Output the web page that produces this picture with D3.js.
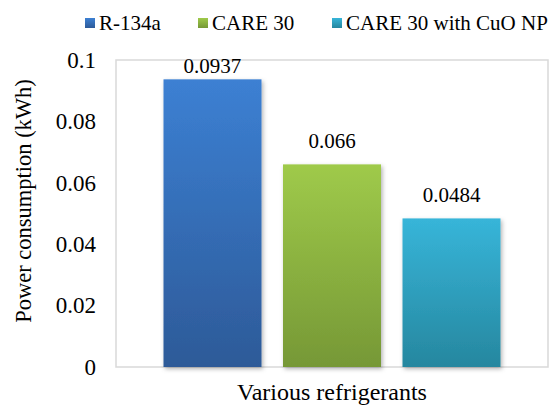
<!DOCTYPE html>
<html>
<head>
<meta charset="utf-8">
<script src="https://cdn.jsdelivr.net/npm/d3@7"></script>
<style>
  body { margin: 0; background: #fff; }
</style>
</head>
<body>
<svg id="chart" width="553" height="405" font-family="Liberation Serif"></svg>
<script>
// chart data
const categories = ['Various refrigerants'];
const series = ['R-134a', 'CARE 30', 'CARE 30 with CuO NP'];
const values = [0.0937, 0.066, 0.0484];
const yTicks = [0, 0.02, 0.04, 0.06, 0.08, 0.1];
const yTickLabels = ['0', '0.02', '0.04', '0.06', '0.08', '0.1'];

const FONT = 'Liberation Serif';
const plot = { left: 116, right: 548, top: 60, bottom: 367 };

// gradient colours per series (top, bottom)
const colors = [
  ['#3c80d3', '#2d5a98'],
  ['#9fca4a', '#769836'],
  ['#37b5d9', '#26879f']
];

const svg = d3.select('#chart');
const defs = svg.append('defs');

colors.forEach((c, i) => {
  const g = defs.append('linearGradient')
    .attr('id', 'grad' + i)
    .attr('x1', 0).attr('y1', 0).attr('x2', 0).attr('y2', 1);
  g.append('stop').attr('offset', '0%').attr('stop-color', c[0]);
  g.append('stop').attr('offset', '100%').attr('stop-color', c[1]);
});

const shadow = defs.append('filter').attr('id', 'shadow')
  .attr('x', '-20%').attr('y', '-10%').attr('width', '140%').attr('height', '130%');
shadow.append('feDropShadow')
  .attr('dx', 1.5).attr('dy', 2).attr('stdDeviation', 2)
  .attr('flood-color', '#000').attr('flood-opacity', 0.3);

const y = d3.scaleLinear().domain([0, 0.1]).range([plot.bottom, plot.top]);

const x0 = d3.scaleBand()
  .domain(categories)
  .range([plot.left, plot.right])
  .paddingInner(0)
  .paddingOuter(0.1025);

const x1 = d3.scaleBand()
  .domain(series)
  .range([0, x0.bandwidth()])
  .paddingInner(0.18)
  .paddingOuter(0.09);

function label(sel, size) {
  return sel.attr('font-family', FONT)
    .style('font-family', FONT)
    .style('font-size', size + 'px')
    .attr('fill', '#000');
}

// plot border
svg.append('rect')
  .attr('x', plot.left).attr('y', plot.top)
  .attr('width', plot.right - plot.left)
  .attr('height', plot.bottom - plot.top)
  .attr('fill', 'none')
  .attr('stroke', '#d9d9d9')
  .attr('stroke-width', 1.5);

// y axis labels
const yAxis = d3.axisLeft(y)
  .tickValues(yTicks)
  .tickFormat((d, i) => yTickLabels[i])
  .tickSize(0)
  .tickPadding(20);

const yg = svg.append('g')
  .attr('transform', `translate(${plot.left},0)`)
  .call(yAxis)
  .attr('font-family', FONT);
yg.select('.domain').remove();
label(yg.selectAll('text'), 23);

// bars
const data = series.map((s, i) => ({ s, v: values[i], i }));
const barG = svg.append('g');
data.forEach(d => {
  const bx = x0(categories[0]) + x1(d.s);
  barG.append('rect')
    .attr('x', bx)
    .attr('y', y(d.v))
    .attr('width', x1.bandwidth())
    .attr('height', y(0) - y(d.v))
    .attr('fill', `url(#grad${d.i})`)
    .attr('filter', 'url(#shadow)');

  label(barG.append('text'), 21)
    .attr('x', bx + x1.bandwidth() / 2)
    .attr('y', Math.max(y(d.v) - 16, 73))
    .attr('text-anchor', 'middle')
    .text(d.v);
});

// axis titles
label(svg.append('text'), 22.5)
  .attr('transform', `translate(31,201) rotate(-90)`)
  .attr('text-anchor', 'middle')
  .text('Power consumption (kWh)');

label(svg.append('text'), 24)
  .attr('x', (plot.left + plot.right) / 2)
  .attr('y', 400)
  .attr('text-anchor', 'middle')
  .text(categories[0]);

// legend
const legendX = [85, 198, 332];
series.forEach((s, i) => {
  const g = svg.append('g').attr('transform', `translate(${legendX[i]},18)`);
  g.append('rect')
    .attr('width', 10).attr('height', 10)
    .attr('fill', `url(#grad${i})`);
  label(g.append('text'), 21)
    .attr('x', 14).attr('y', 12)
    .text(s);
});
</script>
</body>
</html>
